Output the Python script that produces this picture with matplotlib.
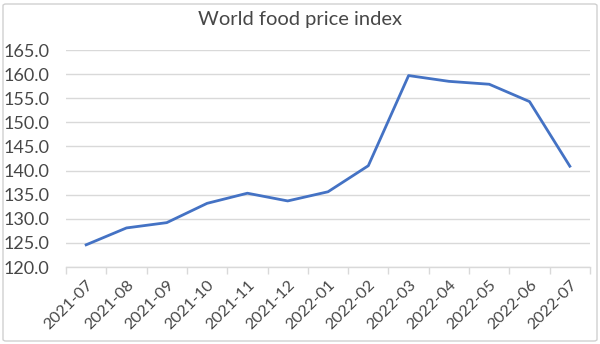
import matplotlib
matplotlib.use("Agg")
import matplotlib.pyplot as plt
from matplotlib.patches import FancyBboxPatch
from matplotlib.ticker import FixedLocator, FormatStrFormatter

months = ["2021-07", "2021-08", "2021-09", "2021-10", "2021-11", "2021-12",
          "2022-01", "2022-02", "2022-03", "2022-04", "2022-05", "2022-06", "2022-07"]
index_values = [124.6, 128.1, 129.2, 133.2, 135.3, 133.7,
                135.6, 141.0, 159.7, 158.5, 157.9, 154.3, 140.9]
y_ticks = [120, 125, 130, 135, 140, 145, 150, 155, 160, 165]

plt.rcParams["font.family"] = ["Lato", "DejaVu Sans"]
text_color = "#474747"
grid_color = "#D9D9D9"
line_color = "#4472C4"

fig = plt.figure(figsize=(6.0, 3.44), dpi=100)
ax = fig.add_axes([66 / 600, 1 - 267 / 344, (590 - 66) / 600, (267 - 50) / 344])

x = list(range(len(months)))
ax.plot(x, index_values, color=line_color, linewidth=2.0, solid_joinstyle="round")

ax.set_xlim(-0.5, len(months) - 0.5)
ax.set_ylim(120, 165)
ax.set_yticks(y_ticks)
ax.yaxis.set_major_formatter(FormatStrFormatter("%.1f"))
ax.grid(axis="y", color=grid_color, linewidth=1.0)
ax.set_axisbelow(True)

ax.set_xticks(x)
ax.set_xticklabels(months, rotation=45, ha="right", rotation_mode="anchor")
ax.xaxis.set_minor_locator(FixedLocator([i - 0.5 for i in range(len(months) + 1)]))
ax.tick_params(axis="x", which="major", length=0, pad=8, labelsize=11.7, labelcolor=text_color)
ax.tick_params(axis="x", which="minor", length=5, color=grid_color, width=1.0, direction="out")
ax.tick_params(axis="y", length=0, pad=12, labelsize=13, labelcolor=text_color)

for side in ("left", "right", "top"):
    ax.spines[side].set_visible(False)
ax.spines["bottom"].set_color(grid_color)
ax.spines["bottom"].set_linewidth(1.0)

fig.text(0.5, 1 - 20 / 344, "World food price index", ha="center", va="center",
         fontsize=14.5, color=text_color)

border = FancyBboxPatch((3 / 600, 3 / 344), 594 / 600, 337 / 344,
                        boxstyle="round,pad=0,rounding_size=0.005",
                        transform=fig.transFigure, fill=False,
                        edgecolor="#D0D0D0", linewidth=1.0)
fig.patches.append(border)

fig.savefig("out.png", dpi=100, facecolor="white")
